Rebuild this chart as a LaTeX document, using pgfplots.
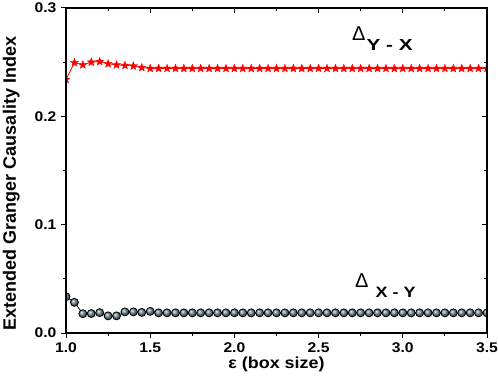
\documentclass[border=0pt]{standalone}
\usepackage{pgfplots}
\pgfplotsset{compat=1.18}
\usepackage{fontspec}
\setmainfont{Liberation Sans}
\definecolor{ballc}{RGB}{115,140,150}
\pgfdeclareplotmark{fstar}{%
  \pgfpathmoveto{\pgfpointpolar{90}{\pgfplotmarksize}}%
  \pgfpathlineto{\pgfpointpolar{126}{0.42\pgfplotmarksize}}%
  \pgfpathlineto{\pgfpointpolar{162}{\pgfplotmarksize}}%
  \pgfpathlineto{\pgfpointpolar{198}{0.42\pgfplotmarksize}}%
  \pgfpathlineto{\pgfpointpolar{234}{\pgfplotmarksize}}%
  \pgfpathlineto{\pgfpointpolar{270}{0.42\pgfplotmarksize}}%
  \pgfpathlineto{\pgfpointpolar{306}{\pgfplotmarksize}}%
  \pgfpathlineto{\pgfpointpolar{342}{0.42\pgfplotmarksize}}%
  \pgfpathlineto{\pgfpointpolar{18}{\pgfplotmarksize}}%
  \pgfpathlineto{\pgfpointpolar{54}{0.42\pgfplotmarksize}}%
  \pgfpathclose
  \pgfusepathqfillstroke}
\begin{document}
\begin{tikzpicture}[x=1pt,y=1pt]
\useasboundingbox (0,0) rectangle (498pt,386pt);
\pgfplotsset{
  myaxis/.style={
    scale only axis, width=421pt, height=325pt,
    xmin=1.0, xmax=3.5, ymin=0, ymax=0.3,
    xtick={1.0,1.5,2.0,2.5,3.0,3.5},
    ytick={0,0.1,0.2,0.3},
    minor x tick num=1, minor y tick num=1,
    major tick length=5pt, minor tick length=3pt,
    axis line style={line width=1.2pt},
    every tick/.style={black, line width=1pt},
  }
}
\begin{axis}[myaxis,
  at={(66pt,53pt)}, anchor=south west,
  tick align=outside, xtick pos=bottom, ytick pos=left,
  /pgf/number format/assume math mode=true,
  xticklabel={\scalebox{1.12}[1]{\fontsize{14}{16}\selectfont\bfseries\pgfmathprintnumber[fixed,fixed zerofill,precision=1]{\tick}}},
  yticklabel={\scalebox{1.12}[1]{\fontsize{14}{16}\selectfont\bfseries\pgfmathprintnumber[fixed,fixed zerofill,precision=1]{\tick}}},
  xticklabel style={yshift=-1pt},
  yticklabel style={xshift=-1pt},
  xlabel={\scalebox{1.12}[1]{\fontsize{16}{18}\selectfont\bfseries ε (box size)}},
  ylabel={\fontsize{18}{20}\selectfont\bfseries Extended Granger Causality Index},
  xlabel style={yshift=2pt},
  ylabel style={at={(ticklabel cs:0.46)}, yshift=8pt},
  clip marker paths=true,
]
\addplot[red, line width=0.8pt, mark=fstar, mark size=4.3pt, mark options={fill=red, draw=red, line width=0.3pt}] coordinates {
(1.00,0.234) (1.05,0.2495) (1.10,0.2475) (1.15,0.2500) (1.20,0.2505)
(1.25,0.2485) (1.30,0.2475) (1.35,0.2470) (1.40,0.2465) (1.45,0.2450)
(1.50,0.2442) (1.55,0.2442) (1.60,0.2442) (1.65,0.2442) (1.70,0.2442)
(1.75,0.2442) (1.80,0.2442) (1.85,0.2442) (1.90,0.2442) (1.95,0.2442)
(2.00,0.2442) (2.05,0.2442) (2.10,0.2442) (2.15,0.2442) (2.20,0.2442)
(2.25,0.2442) (2.30,0.2442) (2.35,0.2442) (2.40,0.2442) (2.45,0.2442)
(2.50,0.2442) (2.55,0.2442) (2.60,0.2442) (2.65,0.2442) (2.70,0.2442)
(2.75,0.2442) (2.80,0.2442) (2.85,0.2442) (2.90,0.2442) (2.95,0.2442)
(3.00,0.2442) (3.05,0.2442) (3.10,0.2442) (3.15,0.2442) (3.20,0.2442)
(3.25,0.2442) (3.30,0.2442) (3.35,0.2442) (3.40,0.2442) (3.45,0.2442)
(3.50,0.2442)
};
\addplot[black, line width=0.8pt, mark=ball, mark size=4pt, mark options={ball color=ballc}] coordinates {
(1.00,0.0335) (1.05,0.0283) (1.10,0.0178) (1.15,0.0180) (1.20,0.0188)
(1.25,0.0158) (1.30,0.0158) (1.35,0.0195) (1.40,0.0195) (1.45,0.0190)
(1.50,0.0200) (1.55,0.0186) (1.60,0.0186) (1.65,0.0186) (1.70,0.0186)
(1.75,0.0186) (1.80,0.0186) (1.85,0.0186) (1.90,0.0186) (1.95,0.0186)
(2.00,0.0186) (2.05,0.0186) (2.10,0.0186) (2.15,0.0186) (2.20,0.0186)
(2.25,0.0186) (2.30,0.0186) (2.35,0.0186) (2.40,0.0186) (2.45,0.0186)
(2.50,0.0186) (2.55,0.0186) (2.60,0.0186) (2.65,0.0186) (2.70,0.0186)
(2.75,0.0186) (2.80,0.0186) (2.85,0.0186) (2.90,0.0186) (2.95,0.0186)
(3.00,0.0186) (3.05,0.0186) (3.10,0.0186) (3.15,0.0186) (3.20,0.0186)
(3.25,0.0186) (3.30,0.0186) (3.35,0.0186) (3.40,0.0186) (3.45,0.0186)
(3.50,0.0186)
};
\node[anchor=base west, inner sep=0pt] at (axis cs:2.698,0.2604) {\raisebox{10pt}{\fontsize{20}{22}\selectfont\symbol{"0394}}\hspace{1pt}\scalebox{1.3}[1]{\fontsize{16}{18}\selectfont\bfseries Y - X}};
\node[anchor=base west, inner sep=0pt] at (axis cs:2.716,0.0332) {\raisebox{10pt}{\fontsize{20}{22}\selectfont\symbol{"0394}}\hspace{7pt}\scalebox{1.2}[1]{\fontsize{15}{17}\selectfont\bfseries X - Y}};
\end{axis}
\begin{axis}[myaxis,
  at={(66pt,53pt)}, anchor=south west,
  tick align=inside, xtick pos=top, ytick pos=right,
  xticklabels={}, yticklabels={},
]
\end{axis}
\end{tikzpicture}
\end{document}
